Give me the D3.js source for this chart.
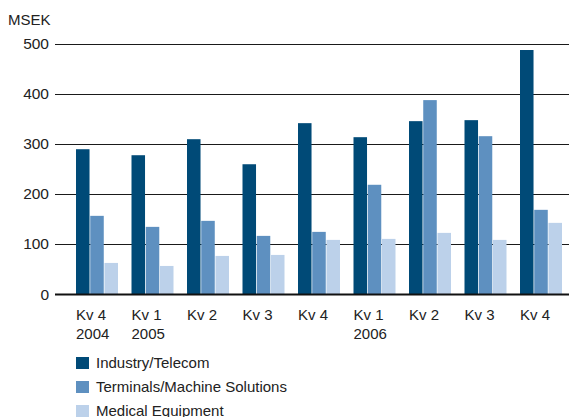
<!DOCTYPE html>
<html>
<head>
<meta charset="utf-8">
<script src="https://cdn.jsdelivr.net/npm/d3@7"></script>
<style>
  html, body { margin: 0; padding: 0; background: #fff; }
  svg { display: block; }
  text { font-family: "Liberation Sans", Arial, sans-serif; fill: #222; }
</style>
</head>
<body>
<svg id="chart" width="569" height="417"></svg>
<script>
// Quarterly sales per business area, MSEK
const quarters = ["Kv 4\n2004", "Kv 1\n2005", "Kv 2", "Kv 3", "Kv 4", "Kv 1\n2006", "Kv 2", "Kv 3", "Kv 4"];
const seriesNames = ["Industry/Telecom", "Terminals/Machine Solutions", "Medical Equipment"];
const industryTelecom = [289, 277, 309, 259, 341, 313, 345, 347, 487];
const terminalsMachine = [156, 134, 146, 116, 124, 218, 387, 315, 168];
const medicalEquipment = [62, 56, 76, 78, 108, 110, 122, 108, 142];
const yTicks = [0, 100, 200, 300, 400, 500];
const colors = ["#004a77", "#5e90c0", "#bcd1ea"];

const seriesValues = [industryTelecom, terminalsMachine, medicalEquipment];
const svg = d3.select("#chart");

const plotLeft = 55, plotRight = 569;
const y = d3.scaleLinear().domain([0, 500]).range([294, 43.5]);

// group band for each quarter, bars inside
const x = d3.scaleBand()
  .domain(d3.range(quarters.length))
  .range([76, 76 + 55.5 * quarters.length])
  .paddingInner(0)
  .paddingOuter(0);
const xs = d3.scaleBand().domain(d3.range(3)).range([0, 42]).paddingInner(0.05);

// unit label
svg.append("text").attr("x", 8).attr("y", 25).style("font-size", "15px").text("MSEK");

// grid lines and y tick labels
const yAxis = svg.append("g");
yAxis.selectAll("line").data(yTicks.filter(d => d > 0)).join("line")
  .attr("x1", plotLeft).attr("x2", plotRight)
  .attr("y1", d => Math.round(y(d)) + 0.5).attr("y2", d => Math.round(y(d)) + 0.5)
  .attr("stroke", "#1a1a1a").attr("stroke-width", 1.2);
yAxis.selectAll("text").data(yTicks).join("text")
  .attr("x", 49).attr("y", d => y(d)).attr("dy", "0.36em")
  .attr("text-anchor", "end").style("font-size", "15.5px")
  .text(d => d);

// bars
const groups = svg.append("g").selectAll("g").data(quarters).join("g")
  .attr("transform", (d, i) => `translate(${x(i)},0)`);
groups.selectAll("rect").data((d, i) => seriesValues.map((s, k) => ({ k, v: s[i] }))).join("rect")
  .attr("x", d => xs(d.k))
  .attr("width", xs.bandwidth())
  .attr("y", d => y(d.v))
  .attr("height", d => y(0) - y(d.v))
  .attr("fill", d => colors[d.k]);

// baseline
svg.append("line")
  .attr("x1", plotLeft).attr("x2", plotRight)
  .attr("y1", y(0) + 0.5).attr("y2", y(0) + 0.5)
  .attr("stroke", "#111").attr("stroke-width", 2.2);

// quarter labels
const xl = svg.append("g").selectAll("text").data(quarters).join("text")
  .attr("x", (d, i) => x(i)).attr("y", 320)
  .style("font-size", "15px");
xl.selectAll("tspan").data(d => d.split("\n")).join("tspan")
  .attr("x", function () { return this.parentNode.getAttribute("x"); })
  .attr("dy", (d, i) => i === 0 ? 0 : 19)
  .text(d => d);

// legend
const legend = svg.append("g").selectAll("g").data(seriesNames).join("g")
  .attr("transform", (d, i) => `translate(76,${357 + i * 24})`);
legend.append("rect").attr("width", 13).attr("height", 12).attr("fill", (d, i) => colors[i]);
legend.append("text").attr("x", 20).attr("y", 11).style("font-size", "15px").text(d => d);
</script>
</body>
</html>
